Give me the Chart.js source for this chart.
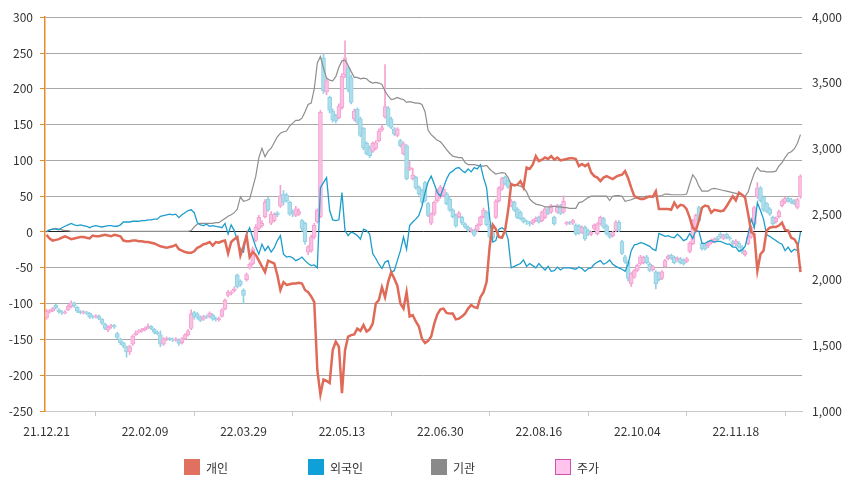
<!DOCTYPE html>
<html>
<head>
<meta charset="utf-8">
<script src="https://cdn.jsdelivr.net/npm/chart.js@4.4.0/dist/chart.umd.min.js"></script>
<style>
  body { margin: 0; background: #fff; }
  #wrap { position: relative; width: 851px; height: 488px; }
  #legend { position: absolute; left: 0; top: 459px; width: 851px; height: 16px; font-family: "Noto Sans CJK KR", sans-serif; }
  .item { position: absolute; top: 0; height: 16px; display: flex; align-items: center; font-size: 12px; color: #333; }
  .box { width: 16px; height: 16px; margin-right: 6px; box-sizing: border-box; }
</style>
</head>
<body>
<div id="wrap">
  <canvas id="chart" width="851" height="488"></canvas>
  <div id="legend"></div>
</div>
<script>
// x axis: one point per trading day, a date label every 32 days
const tickDates = ['21.12.21', '22.02.09', '22.03.29', '22.05.13', '22.06.30', '22.08.16', '22.10.04', '22.11.18'];
const tickStep = 32;

// 개인 (left axis)
const individual = [
  -4,-9,-12,-11,-10,-8,-6,-8,-10,-9,
  -8,-7,-7,-8,-9,-5,-6,-6,-5,-4,
  -5,-6,-4,-5,-6,-12,-13,-13,-12,-12,
  -13,-13,-14,-14,-15,-16,-18,-20,-21,-22,
  -21,-20,-18,-24,-26,-28,-29,-29,-27,-22,
  -20,-17,-16,-14,-19,-14,-15,-13,-12,-30,
  -14,-10,-7,-33,-20,-5,-35,-28,-32,-40,
  -48,-56,-40,-42,-44,-60,-81,-70,-74,-73,
  -72,-72,-71,-72,-81,-84,-90,-98,-193,-227,
  -206,-208,-211,-165,-153,-160,-225,-165,-146,-144,
  -143,-135,-138,-130,-139,-136,-128,-100,-95,-77,
  -91,-70,-56,-65,-75,-100,-107,-84,-118,-116,
  -125,-132,-149,-155,-152,-146,-128,-115,-108,-107,
  -113,-114,-114,-122,-121,-118,-114,-107,-102,-105,
  -106,-91,-84,-70,-20,10,4,-7,-8,2,
  30,67,65,66,71,62,90,88,94,106,
  99,101,104,102,106,101,104,100,101,102,
  103,103,102,92,95,92,95,83,78,76,
  71,76,78,76,74,77,79,80,85,75,
  62,50,48,46,46,48,50,49,57,32,
  32,32,32,31,41,34,38,37,32,20,
  6,2,16,34,37,36,27,31,30,29,
  30,36,43,50,44,55,52,48,25,0,
  -3,-54,-31,-26,2,6,7,7,9,13,
  3,2,-8,-10,-17,-56
];

// 외국인 (left axis)
const foreign = [
  1,3,4,4,3,6,8,10,12,10,
  9,10,9,8,6,8,9,8,7,8,
  9,9,8,8,10,14,14,14,15,15,
  15,16,16,17,17,18,18,22,23,24,
  25,24,25,20,24,27,30,31,27,13,
  10,9,11,8,9,8,7,6,12,-3,
  10,2,-12,-24,-28,-3,6,-8,-21,-31,
  -17,-26,-20,-28,-22,-12,-5,-31,-35,-34,
  -36,-40,-38,-35,-40,-44,-47,-46,-50,62,
  69,76,30,17,16,17,55,2,-5,0,
  -2,-5,-10,4,2,-3,-30,-37,-45,-51,
  -42,-40,-56,-54,-40,-26,-7,-24,9,14,
  18,23,36,55,70,78,67,55,50,62,
  74,82,85,89,90,86,83,88,84,90,
  88,94,76,62,20,-14,-12,4,6,3,
  -10,-50,-48,-46,-44,-39,-48,-44,-47,-50,
  -44,-49,-53,-48,-55,-54,-49,-53,-50,-50,
  -50,-51,-52,-49,-51,-55,-51,-50,-45,-42,
  -40,-45,-43,-39,-45,-48,-50,-52,-55,-45,
  -26,-18,-17,-15,-16,-18,-20,-24,-26,-2,
  -4,-6,-5,-7,-8,-3,-7,-12,-10,-2,
  -9,2,1,-16,-16,-13,-12,-14,-13,-13,
  -15,-17,-17,-21,-21,-27,-25,-20,-3,18,
  6,41,30,18,-4,-6,-9,-12,-15,-17,
  -26,-21,-28,-24,-26,0
];

// 기관 (left axis)
const institution = [
  0,3,4,5,4,3,2,2,1,1,
  1,1,1,1,1,1,1,1,1,1,
  1,1,1,1,1,1,1,1,1,1,
  1,1,1,1,1,1,1,1,1,1,
  1,1,1,1,1,1,1,2,7,11,
  12,12,12,12,12,13,13,16,19,22,
  24,27,32,49,43,44,46,62,78,104,
  117,105,113,117,125,133,138,140,141,148,
  152,156,156,159,168,178,180,200,236,245,
  229,215,212,211,217,230,239,240,233,224,
  216,216,214,215,214,210,208,209,208,206,
  197,190,185,186,188,186,185,181,182,181,
  180,180,178,168,142,136,132,128,126,121,
  115,110,106,105,104,104,97,94,94,94,
  93,92,92,93,88,84,81,82,83,82,
  76,66,66,65,64,62,56,46,42,39,
  38,37,35,35,35,36,35,35,34,34,
  33,33,33,41,42,45,48,50,50,50,
  50,50,50,44,50,51,51,50,43,44,
  45,47,48,49,49,50,49,49,50,50,
  51,53,53,52,52,52,52,52,53,67,
  80,74,64,57,57,57,60,61,60,59,
  58,57,56,55,54,53,52,50,56,70,
  82,90,85,85,84,84,84,85,92,97,
  104,110,112,116,124,136
];

// 주가 (right axis): open / close / high / low
const priceOpen = [
  1710,1755,1765,1805,1770,1755,1745,1770,1795,1825,
  1790,1760,1745,1755,1745,1720,1715,1725,1700,1665,
  1615,1640,1650,1590,1550,1520,1490,1450,1510,1580,
  1600,1610,1620,1635,1645,1625,1600,1580,1510,1545,
  1555,1545,1540,1545,1520,1550,1580,1630,1750,1740,
  1715,1700,1720,1720,1730,1705,1695,1720,1775,1880,
  1895,1915,2035,1990,1920,2000,2090,2120,2300,2390,
  2410,2480,2615,2430,2450,2510,2560,2650,2645,2590,
  2520,2490,2500,2450,2430,2210,2220,2325,2440,2480,
  3690,3430,3390,3285,3250,3235,3310,3560,3615,3540,
  3225,3300,3225,3155,3040,3005,2980,3000,3060,3140,
  3240,3310,3225,3150,3100,3060,2960,3020,2840,2770,
  2780,2705,2680,2740,2580,2430,2500,2600,2630,2640,
  2655,2615,2530,2490,2480,2475,2425,2400,2370,2375,
  2375,2420,2480,2515,2410,2360,2475,2600,2690,2780,
  2755,2565,2590,2540,2515,2465,2445,2435,2430,2450,
  2475,2450,2475,2540,2515,2475,2515,2565,2515,2425,
  2435,2430,2415,2410,2360,2400,2375,2345,2390,2350,
  2425,2465,2410,2350,2335,2375,2440,2290,2175,2135,
  1970,2020,2070,2120,2130,2175,2120,2075,2060,2050,
  2010,2100,2160,2185,2170,2150,2160,2150,2140,2215,
  2275,2400,2550,2275,2260,2255,2280,2290,2320,2350,
  2315,2345,2320,2290,2270,2280,2250,2190,2275,2325,
  2425,2630,2700,2630,2580,2540,2475,2440,2480,2565,
  2590,2620,2610,2600,2550,2630
];
const priceClose = [
  1760,1765,1780,1785,1755,1745,1755,1800,1825,1800,
  1760,1750,1755,1745,1715,1715,1725,1705,1670,1630,
  1640,1650,1640,1560,1520,1495,1450,1490,1570,1595,
  1610,1620,1630,1645,1630,1600,1590,1510,1550,1555,
  1545,1540,1550,1515,1550,1580,1610,1740,1720,1715,
  1690,1720,1715,1745,1700,1695,1705,1770,1845,1905,
  1905,1930,1945,1960,1880,2040,2120,2235,2400,2475,
  2430,2590,2530,2500,2500,2495,2640,2590,2600,2500,
  2500,2540,2520,2390,2290,2250,2325,2415,2530,3275,
  3440,3515,3290,3215,3210,3325,3550,3690,3450,3350,
  3285,3200,3100,3005,2960,2945,3040,3045,3135,3160,
  3320,3180,3160,3110,3150,3020,3035,2770,2855,2800,
  2700,2655,2590,2600,2490,2500,2590,2680,2705,2690,
  2580,2530,2480,2410,2510,2430,2400,2375,2385,2340,
  2415,2475,2530,2420,2325,2320,2600,2700,2770,2730,
  2705,2600,2530,2475,2465,2440,2440,2425,2450,2470,
  2440,2515,2540,2505,2565,2425,2565,2505,2600,2435,
  2430,2450,2350,2355,2400,2310,2345,2360,2415,2425,
  2475,2400,2350,2325,2360,2440,2375,2200,2135,2010,
  2045,2070,2110,2175,2170,2130,2070,2100,1970,2000,
  2060,2145,2180,2165,2130,2165,2130,2120,2160,2280,
  2450,2490,2450,2235,2235,2275,2300,2310,2305,2325,
  2335,2320,2310,2270,2295,2250,2210,2215,2325,2400,
  2550,2700,2600,2530,2520,2500,2425,2470,2520,2600,
  2620,2600,2590,2580,2610,2790
];
const priceHigh = [
  1775,1775,1790,1815,1780,1765,1765,1810,1840,1830,
  1795,1765,1765,1760,1750,1730,1735,1730,1705,1670,
  1650,1660,1660,1600,1555,1525,1495,1500,1580,1610,
  1620,1630,1640,1665,1650,1630,1610,1610,1560,1565,
  1560,1555,1560,1550,1560,1590,1620,1770,1760,1750,
  1725,1730,1730,1755,1740,1715,1715,1780,1855,1920,
  1915,1945,2045,2000,1930,2050,2130,2250,2420,2490,
  2450,2610,2630,2520,2510,2520,2720,2680,2660,2600,
  2530,2560,2540,2460,2440,2260,2340,2430,2540,3290,
  3720,3530,3400,3300,3260,3340,3570,3820,3630,3560,
  3300,3310,3240,3160,3050,3020,3050,3060,3150,3180,
  3640,3320,3240,3160,3160,3070,3050,3030,2900,2850,
  2790,2715,2690,2750,2590,2510,2600,2690,2720,2700,
  2665,2625,2540,2500,2520,2485,2435,2410,2395,2385,
  2425,2485,2545,2525,2420,2370,2610,2710,2780,2790,
  2765,2610,2600,2550,2525,2475,2455,2445,2460,2480,
  2485,2525,2550,2550,2575,2485,2575,2575,2640,2445,
  2445,2460,2425,2420,2410,2410,2385,2370,2425,2435,
  2485,2475,2420,2360,2370,2450,2450,2300,2185,2145,
  2055,2080,2120,2185,2180,2185,2130,2110,2070,2060,
  2070,2155,2190,2195,2180,2175,2170,2160,2170,2290,
  2460,2500,2560,2285,2270,2285,2310,2320,2330,2360,
  2345,2355,2330,2300,2305,2290,2260,2225,2335,2410,
  2560,2740,2710,2640,2590,2550,2485,2480,2530,2610,
  2630,2630,2620,2610,2620,2800
];
const priceLow = [
  1700,1745,1755,1775,1745,1735,1740,1765,1785,1790,
  1750,1740,1740,1735,1705,1705,1710,1695,1660,1620,
  1605,1630,1630,1550,1505,1480,1410,1430,1500,1575,
  1595,1600,1610,1625,1620,1590,1580,1490,1500,1535,
  1535,1530,1530,1500,1510,1545,1570,1620,1700,1700,
  1680,1690,1705,1710,1690,1685,1685,1715,1770,1870,
  1885,1905,1935,1950,1820,1990,2080,2110,2290,2380,
  2400,2470,2520,2420,2440,2480,2550,2570,2590,2490,
  2480,2480,2490,2370,2270,2190,2210,2310,2430,2470,
  3420,3410,3270,3200,3195,3225,3300,3540,3430,3340,
  3210,3190,3090,2990,2950,2930,2970,2990,3050,3130,
  3230,3170,3150,3100,3090,3010,2950,2760,2830,2760,
  2690,2645,2580,2590,2480,2420,2490,2590,2620,2630,
  2570,2520,2470,2400,2470,2420,2390,2365,2360,2330,
  2365,2410,2470,2410,2310,2305,2465,2590,2680,2720,
  2695,2555,2520,2465,2455,2430,2420,2410,2420,2440,
  2430,2440,2465,2495,2505,2415,2505,2495,2505,2415,
  2420,2420,2340,2345,2350,2300,2335,2335,2380,2340,
  2415,2390,2340,2315,2325,2365,2365,2190,2125,1990,
  1950,2010,2060,2110,2120,2120,2060,2065,1930,1990,
  2000,2090,2150,2155,2120,2140,2120,2110,2130,2205,
  2265,2390,2440,2225,2225,2245,2270,2280,2295,2315,
  2305,2310,2300,2260,2260,2240,2200,2180,2265,2315,
  2415,2620,2590,2520,2510,2490,2415,2430,2470,2555,
  2580,2590,2580,2570,2540,2620
];

const legendItems = [
  { label: '개인', fill: '#E07060', border: '#E07060', left: 184 },
  { label: '외국인', fill: '#0FA0D8', border: '#0FA0D8', left: 308 },
  { label: '기관', fill: '#8A8A8A', border: '#8A8A8A', left: 431 },
  { label: '주가', fill: '#FFC4EC', border: '#D050B0', left: 555 }
];

const days = priceClose.map((_, i) => i);
const bodies = priceOpen.map((o, i) => [o, priceClose[i]]);
const wicks = priceLow.map((l, i) => [l, priceHigh[i]]);

const isUp = i => priceClose[i] >= priceOpen[i];
const upFill = '#FAC0E2', downFill = '#ADDEEC';
const upEdge = '#F4A2D2', downEdge = '#92D1E3';

Chart.defaults.font.family = '"Noto Sans CJK KR", "Noto Sans", sans-serif';
Chart.defaults.font.size = 12;
Chart.defaults.color = '#333';

new Chart(document.getElementById('chart'), {
  data: {
    labels: days,
    datasets: [
      {
        type: 'line', label: '개인', data: individual, yAxisID: 'y',
        borderColor: '#E06A58', borderWidth: 2.5, pointRadius: 0, tension: 0, order: 1
      },
      {
        type: 'line', label: '외국인', data: foreign, yAxisID: 'y',
        borderColor: '#1D9DCC', borderWidth: 1.3, pointRadius: 0, tension: 0, order: 2
      },
      {
        type: 'line', label: '기관', data: institution, yAxisID: 'y',
        borderColor: '#8E8E8E', borderWidth: 1.2, pointRadius: 0, tension: 0, order: 3
      },
      {
        type: 'bar', label: '주가', data: bodies, yAxisID: 'y1',
        backgroundColor: c => isUp(c.dataIndex) ? upFill : downFill,
        borderColor: c => isUp(c.dataIndex) ? upEdge : downEdge,
        borderWidth: 1, borderSkipped: false, barThickness: 4, minBarLength: 1,
        grouped: false, order: 4
      },
      {
        type: 'bar', label: '주가 고저', data: wicks, yAxisID: 'y1',
        backgroundColor: c => isUp(c.dataIndex) ? upEdge : downEdge,
        borderWidth: 0, barThickness: 1, grouped: false, order: 5
      }
    ]
  },
  options: {
    responsive: false,
    animation: false,
    layout: { padding: { top: 16, left: 0, right: 0, bottom: 0 } },
    plugins: { legend: { display: false }, tooltip: { enabled: false } },
    scales: {
      x: {
        type: 'category',
        offset: true,
        grid: { drawOnChartArea: false, drawTicks: true, tickLength: 5, color: '#c8c8c8' },
        border: { color: '#c8c8c8' },
        ticks: {
          autoSkip: false, maxRotation: 0, padding: 8,
          callback: (v, i) => i % tickStep === 0 ? tickDates[i / tickStep] : null
        },
        afterFit: s => { s.height = 77; }
      },
      y: {
        position: 'left', min: -250, max: 300,
        ticks: { stepSize: 50, padding: 7 },
        grid: {
          color: c => c.tick && c.tick.value === 0 ? '#222' : '#a8a8a8',
          tickColor: '#E8892B', tickLength: 5
        },
        border: { color: '#E8892B', width: 1.5 },
        afterFit: s => { s.width = 45; }
      },
      y1: {
        position: 'right', min: 1000, max: 4000,
        ticks: { stepSize: 500, padding: 10, callback: v => v.toLocaleString('en-US') },
        grid: { drawOnChartArea: false, drawTicks: false },
        border: { display: false },
        afterFit: s => { s.width = 49; }
      }
    }
  }
});

// legend row under the chart
const legend = document.getElementById('legend');
legendItems.forEach(item => {
  const el = document.createElement('div');
  el.className = 'item';
  el.style.left = item.left + 'px';
  el.innerHTML = '<span class="box" style="background:' + item.fill + ';border:1px solid ' + item.border + '"></span>' + item.label;
  legend.appendChild(el);
});
</script>
</body>
</html>
